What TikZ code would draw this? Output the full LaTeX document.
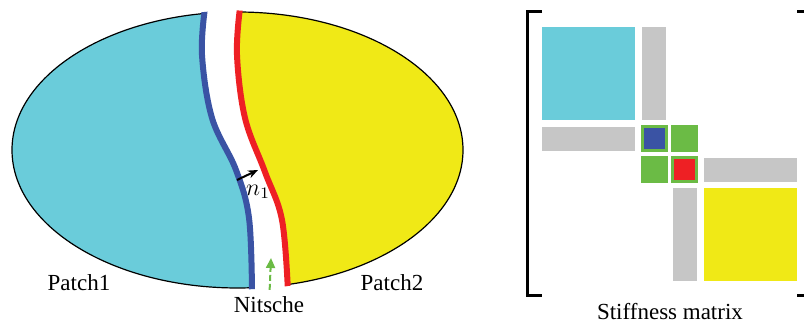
\documentclass[tikz,border=0pt]{standalone}
\usepackage{fontspec}
\setmainfont{Liberation Serif}
\usetikzlibrary{arrows.meta,positioning}

\definecolor{patchcyan}{RGB}{106,204,218}
\definecolor{patchyellow}{RGB}{240,233,22}
\definecolor{edgeblue}{RGB}{58,83,164}
\definecolor{edgered}{RGB}{238,32,36}
\definecolor{nitgreen}{RGB}{107,187,69}
\definecolor{coupling}{RGB}{198,198,198}

\begin{document}
\begin{tikzpicture}[
        x=0.5pt, y=-0.5pt,
        font=\fontsize{11.5}{13.8}\selectfont,
        outline/.style={draw=black, line width=0.6pt},
        interface/.style={line width=3pt},
        normal/.style={-{Stealth[length=5pt,width=4pt]}, line width=1pt},
        nitarrow/.style={-{Triangle[length=5pt,width=4.5pt]}, dashed, dash pattern=on 3pt off 1.5pt, line width=1pt, nitgreen},
        bracket/.style={line width=1.5pt}
    ]
        \useasboundingbox (0,0) rectangle (804,324);

        % Patch1 (left half of the ellipse)
        \begin{scope}
            \clip plot[smooth, tension=0.6] coordinates {(205,8) (202,55) (212,118) (236,170) (249,218) (252,292)} -- (0,300) -- (0,0) -- cycle;
            \fill[patchcyan] (237.5,150) ellipse [x radius=225.5, y radius=138];
            \draw[outline] (237.5,150) ellipse [x radius=225.5, y radius=138];
        \end{scope}

        % Patch2 (right half of the ellipse)
        \begin{scope}
            \clip plot[smooth, tension=0.6] coordinates {(240,8) (237,55) (245,118) (265,172) (282,220) (288,292)} -- (480,300) -- (480,0) -- cycle;
            \fill[patchyellow] (237.5,150) ellipse [x radius=225.5, y radius=138];
            \draw[outline] (237.5,150) ellipse [x radius=225.5, y radius=138];
        \end{scope}

        % Interfaces
        \begin{scope}
            \clip (237.5,150) ellipse [x radius=227, y radius=139.5];
            \draw[interface, edgeblue] plot[smooth, tension=0.6] coordinates {(205,8) (202,55) (212,118) (236,170) (249,218) (252,292)};
            \draw[interface, edgered] plot[smooth, tension=0.6] coordinates {(240,8) (237,55) (245,118) (265,172) (282,220) (288,292)};
        \end{scope}

        % Normal vector
        \coordinate (nfrom) at (237,180);
        \coordinate (nto) at (258,170);
        \draw[normal] (nfrom) -- (nto);
        \node (nlabel) at (258,192) {$n_1$};

        % Labels
        \node (patchA) at (79,283) {Patch1};
        \node (patchB) at (392,283) {Patch2};
        \node (nitsche) at (269,305) {Nitsche};
        \coordinate (gap) at (271,258);
        \draw[nitarrow] (nitsche) -- (gap);

        % Stiffness matrix brackets
        \draw[bracket] (542,12) -- (527,12) -- (527,296) -- (542,296);
        \draw[bracket] (797,12) -- (806,12) -- (806,296) -- (797,296);

        % Patch blocks
        \fill[patchcyan] (542,27) rectangle (635,120);
        \fill[patchyellow] (704,188) rectangle (797,281);

        % Coupling blocks
        \fill[coupling] (642,27) rectangle (666,120);
        \fill[coupling] (542,127) rectangle (635,151);
        \fill[coupling] (704,158) rectangle (797,182);
        \fill[coupling] (673,188) rectangle (697,281);

        % Nitsche terms
        \fill[nitgreen] (641,125) rectangle (668,152);
        \fill[edgeblue] (644,128) rectangle (665,149);
        \fill[nitgreen] (671,125) rectangle (698,152);
        \fill[nitgreen] (641,156) rectangle (668,183);
        \fill[nitgreen] (671,156) rectangle (698,183);
        \fill[edgered] (674,159) rectangle (695,180);

        \node (stiff) at (670,312) {Stiffness matrix};
    \end{tikzpicture}
\end{document}
